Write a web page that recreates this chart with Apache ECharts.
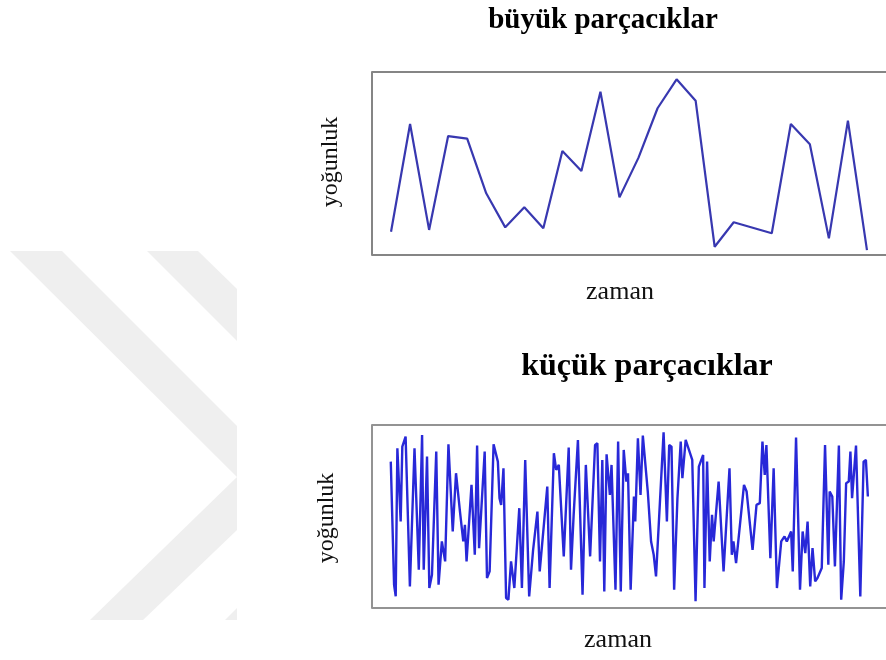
<!DOCTYPE html>
<html>
<head>
<meta charset="utf-8">
<script src="https://cdn.jsdelivr.net/npm/echarts@6/dist/echarts.min.js"></script>
<style>html,body{margin:0;padding:0;background:#fff;}#c{width:886px;height:660px;}</style>
</head>
<body>
<div id="c"></div>
<script>
// Top panel: large particles (time index, intensity 0-100)
var bigTimes = [0,1,2,3,4,5,6,7,8,9,10,11,12,13,14,15,16,17,18,19,20,21,22,23,24,25];
var bigValues = [12.7,71.6,13.7,65.0,63.6,33.7,15.1,26.1,14.6,56.8,45.9,89.2,31.5,53.2,80.2,96.0,84.3,4.5,17.9,14.9,11.9,71.6,60.5,9.1,73.4,2.7];

// Bottom panel: small particles (time units, intensity 0-550)
var smallTimes = [0,10,15,20,30,35,45,58,72,85,95,100,110,117,125,130,138,145,155,160,165,175,188,198,210,220,225,230,245,255,262,268,285,292,300,312,325,330,335,342,350,357,365,375,390,398,408,420,
432,438,445,452,475,482,495,502,510,525,540,547,555,568,582,592,605,620,627,635,642,648,655,665,670,682,690,698,707,715,720,728,738,742,750,758,765,780,790,798,805,828,838,845,852,860,870,880,885,895,915,925,935,948,
952,960,968,975,980,995,1010,1028,1035,1040,1048,1072,1080,1098,1110,1120,1128,1135,1140,1152,1162,1172,1185,1195,1202,1215,1220,1230,1242,1250,1258,1265,1273,1280,1288,1295,1308,1318,1328,1332,1340,1348,1360,1367,1375,1382,1390,1395,1400,1412,1425,1435,1442,1448];
var smallValues = [440,70,35,480,260,485,515,65,480,115,520,115,455,60,100,100,470,70,200,205,140,492,230,405,290,200,250,140,370,160,488,180,470,90,110,492,440,330,310,420,30,25,140,60,300,60,445,35,
175,175,290,110,365,60,465,415,430,155,482,115,280,505,40,430,155,490,495,140,445,50,462,340,430,55,500,50,475,380,405,55,335,260,510,340,518,350,200,160,95,528,260,490,485,55,330,500,390,505,445,20,425,460,
60,440,140,280,200,380,110,420,160,200,135,370,350,175,310,315,500,400,490,150,420,60,200,215,200,230,110,512,55,230,165,260,65,180,80,90,120,490,130,350,335,125,488,25,140,375,380,470,330,488,35,440,445,335];

// Text
var titleTop = 'büyük parçacıklar';
var titleBottom = 'küçük parçacıklar';
var xLabel = 'zaman';
var yLabel = 'yoğunluk';

function toPairs(xs, ys){ return xs.map(function(x,i){ return [x, ys[i]]; }); }

var chart = echarts.init(document.getElementById('c'), null, {renderer:'canvas'});
var serif = 'Liberation Serif, Times New Roman, serif';
var wm = '#efefef';
var xHidden = {axisLine:{show:false},axisTick:{show:false},axisLabel:{show:false},splitLine:{show:false}};
function yBox(col){
  return {axisLine:{show:true,onZero:false,lineStyle:{color:col,width:2}},axisTick:{show:false},axisLabel:{show:false},
          splitLine:{show:true,lineStyle:{color:col,width:2}}};
}

chart.setOption({
  backgroundColor:'#ffffff',
  animation:false,
  grid:[
    {left:372, top:72, width:520, height:183, show:false},
    {left:372, top:425, width:520, height:183, show:false}
  ],
  xAxis:[
    Object.assign({type:'value', gridIndex:0, min:-1, max:26}, xHidden),
    Object.assign({type:'value', gridIndex:1, min:-57, max:1503}, xHidden)
  ],
  yAxis:[
    Object.assign({type:'value', gridIndex:0, min:0, max:100, interval:100}, yBox('#858585')),
    Object.assign({type:'value', gridIndex:1, min:0, max:550, interval:550}, yBox('#939393'))
  ],
  graphic:[
    {type:'polygon', z:-10, shape:{points:[[10,251],[62,251],[237,426],[237,530],[143,620],[90,620],[237,477]]}, style:{fill:wm}},
    {type:'polygon', z:-10, shape:{points:[[147,251],[198,251],[237,289],[237,341]]}, style:{fill:wm}},
    {type:'polygon', z:-10, shape:{points:[[225,620],[237,620],[237,608]]}, style:{fill:wm}},
    {type:'text', style:{text:titleTop, x:603, y:21, textAlign:'center', textVerticalAlign:'middle', font:'bold 29px '+serif, fill:'#000'}},
    {type:'text', style:{text:titleBottom, x:647, y:367, textAlign:'center', textVerticalAlign:'middle', font:'bold 32px '+serif, fill:'#000'}},
    {type:'text', style:{text:xLabel, x:620, y:292, textAlign:'center', textVerticalAlign:'middle', font:'26px '+serif, fill:'#111'}},
    {type:'text', style:{text:xLabel, x:618, y:640, textAlign:'center', textVerticalAlign:'middle', font:'26px '+serif, fill:'#111'}},
    {type:'text', rotation:Math.PI/2, x:331, y:162, style:{text:yLabel, x:0, y:0, textAlign:'center', textVerticalAlign:'middle', font:'24px '+serif, fill:'#111'}},
    {type:'text', rotation:Math.PI/2, x:327, y:518, style:{text:yLabel, x:0, y:0, textAlign:'center', textVerticalAlign:'middle', font:'24px '+serif, fill:'#111'}}
  ],
  series:[
    {type:'line', xAxisIndex:0, yAxisIndex:0, data:toPairs(bigTimes, bigValues), symbol:'none', lineStyle:{color:'#3838b0', width:2.2}},
    {type:'line', xAxisIndex:1, yAxisIndex:1, data:toPairs(smallTimes, smallValues), symbol:'none', lineStyle:{color:'#2828d8', width:2.4}}
  ]
});
</script>
</body>
</html>
